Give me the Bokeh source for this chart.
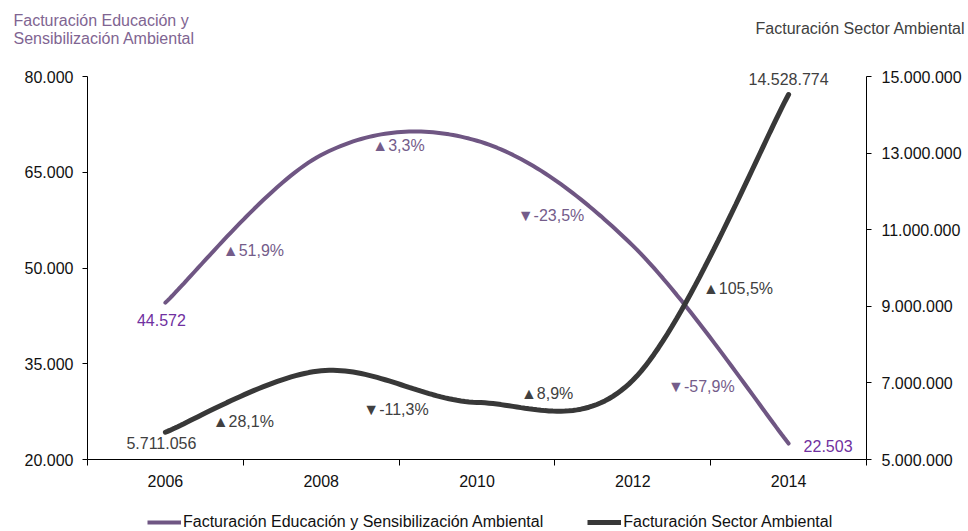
import numpy as np
from bokeh.plotting import figure
from bokeh.layouts import column
from bokeh.models import (Range1d, LinearAxis, FixedTicker, ColumnDataSource,
                          LabelSet, Label, Legend, LegendItem)
from bokeh.core.properties import value
from bokeh.embed import file_html
from bokeh.resources import INLINE

# ---------------- data ----------------
years = ["2006", "2008", "2010", "2012", "2014"]
educacion = [44572, 67700, 69935, 53500, 22503]
sector = [5711056, 7317700, 6490800, 7068500, 14528774]
edu_changes = ["▲51,9%", "▲3,3%", "▼-23,5%", "▼-57,9%"]
sector_changes = ["▲28,1%", "▼-11,3%", "▲8,9%", "▲105,5%"]
left_ticks = [20000, 35000, 50000, 65000, 80000]
left_tick_labels = ["20.000", "35.000", "50.000", "65.000", "80.000"]
right_ticks = [5000000, 7000000, 9000000, 11000000, 13000000, 15000000]
right_tick_labels = ["5.000.000", "7.000.000", "9.000.000", "11.000.000",
                     "13.000.000", "15.000.000"]
edu_title = ["Facturación Educación y", "Sensibilización Ambiental"]
edu_name = "Facturación Educación y Sensibilización Ambiental"
sector_name = "Facturación Sector Ambiental"

# ---------------- styles / geometry ----------------
FONT = "Liberation Sans"
PURPLE_LINE = "#6F5683"
PURPLE_VAL = "#7030A0"
PURPLE_PCT = "#745C8A"
PURPLE_TITLE = "#7F6592"
DARK_LINE = "#383838"
DARK_TXT = "#404040"
W = 968
MAIN_H = 492
FOOT_H = 531 - MAIN_H
EDU_W = 4
SEC_W = 5


def dots(v):
    return f"{int(round(v)):,}".replace(",", ".")


def smooth(xs, ys, n=40):
    """Excel-like smoothed line (Catmull-Rom -> cubic Bezier)."""
    P = np.column_stack([np.asarray(xs, float), np.asarray(ys, float)])
    m = len(P)
    out = [P[0]]
    t = np.linspace(0, 1, n)[1:, None]
    for i in range(m - 1):
        p0 = P[max(i - 1, 0)]
        p1 = P[i]
        p2 = P[i + 1]
        p3 = P[min(i + 2, m - 1)]
        c1 = p1 + (p2 - p0) / 6.0
        c2 = p2 - (p3 - p1) / 6.0
        seg = ((1 - t) ** 3) * p1 + 3 * ((1 - t) ** 2) * t * c1 + 3 * (1 - t) * t ** 2 * c2 + t ** 3 * p2
        out.extend(seg)
    out = np.array(out)
    return out[:, 0], out[:, 1]


xs = list(range(len(years)))
ex, ey = smooth(xs, educacion)
sx_, sy_ = smooth(xs, sector)

p = figure(width=W, height=MAIN_H, output_backend="svg", toolbar_location=None,
           x_range=Range1d(-0.5, len(years) - 0.5),
           y_range=Range1d(left_ticks[0], left_ticks[-1]))
p.min_border_left = 87
p.min_border_right = 102
p.min_border_top = 76
p.min_border_bottom = 33
p.outline_line_color = None
p.background_fill_color = "white"
p.border_fill_color = "white"
p.xgrid.visible = False
p.ygrid.visible = False

p.extra_y_ranges = {"right": Range1d(right_ticks[0], right_ticks[-1])}

# x axis
xa = p.xaxis[0]
xa.ticker = FixedTicker(ticks=xs, minor_ticks=[x - 0.5 for x in xs] + [xs[-1] + 0.5])
xa.major_label_overrides = {x: y for x, y in zip(xs, years)}
xa.major_tick_out = 0
xa.major_tick_in = 0
xa.minor_tick_out = 6
xa.minor_tick_in = 0
xa.minor_tick_line_color = "black"
xa.axis_line_color = "black"
xa.major_label_standoff = 9

# left axis
ya = p.yaxis[0]
ya.ticker = FixedTicker(ticks=left_ticks, minor_ticks=[])
ya.major_label_overrides = {t: s for t, s in zip(left_ticks, left_tick_labels)}
ya.major_label_standoff = 9

# right axis
ra = LinearAxis(y_range_name="right")
ra.ticker = FixedTicker(ticks=right_ticks, minor_ticks=[])
ra.major_label_overrides = {t: s for t, s in zip(right_ticks, right_tick_labels)}
ra.major_label_standoff = 10
p.add_layout(ra, "right")

for ax in (ya, ra):
    ax.major_tick_out = 5
    ax.major_tick_in = 0
    ax.minor_tick_out = 0
    ax.minor_tick_in = 0
    ax.axis_line_color = "black"
    ax.major_tick_line_color = "black"

for ax in (xa, ya, ra):
    ax.major_label_text_font = FONT
    ax.major_label_text_font_size = "16px"
    ax.major_label_text_color = "#111111"
    ax.axis_line_width = 1

# lines
p.line(ex, ey, line_color=PURPLE_LINE, line_width=EDU_W, line_cap="round")
p.line(sx_, sy_, line_color=DARK_LINE, line_width=SEC_W, line_cap="round",
       y_range_name="right")


def lbl(x, y, txt, color, align, xo=0, yo=0, rng="default"):
    return Label(x=x, y=y, text=txt, text_color=color, text_font=FONT,
                 text_font_size="16px", text_align=align,
                 text_baseline="middle", x_offset=xo, y_offset=yo,
                 y_range_name=rng)


# value labels at the ends
p.add_layout(lbl(xs[0], educacion[0], dots(educacion[0]), PURPLE_VAL, "center", -4, -17))
p.add_layout(lbl(xs[-1], educacion[-1], dots(educacion[-1]), PURPLE_VAL, "left", 15, -2))
p.add_layout(lbl(xs[0], sector[0], dots(sector[0]), DARK_TXT, "center", -4, -11, "right"))
# labels reaching above the frame go to a side panel (not clipped there)
p.add_layout(lbl(xs[-1], sector[-1], dots(sector[-1]), DARK_TXT, "center", 0, 16, "right"), "above")

# change annotations (anchors between categories)
edu_src = ColumnDataSource(dict(x=[0.565, 1.496, 2.475, 3.44],
                                y=[52742, 69191, 58225, 31436],
                                t=edu_changes))
sec_src = ColumnDataSource(dict(x=[0.5, 1.48, 2.45, 3.675],
                                y=[5992000, 6306000, 6723000, 9465000],
                                t=sector_changes))
p.add_layout(LabelSet(x="x", y="y", text="t", source=edu_src,
                      text_color=PURPLE_PCT, text_font=value(FONT), text_font_size="16px",
                      text_align="center", text_baseline="middle"))
p.add_layout(LabelSet(x="x", y="y", text="t", source=sec_src, y_range_name="right",
                      text_color=DARK_TXT, text_font=value(FONT), text_font_size="16px",
                      text_align="center", text_baseline="middle"))

# axis titles at the top
p.add_layout(lbl(-0.975, 88773, edu_title[0], PURPLE_TITLE, "left"), "above")
p.add_layout(lbl(-0.975, 85953, edu_title[1], PURPLE_TITLE, "left"), "above")
p.add_layout(lbl(5.135, 87520, sector_name, DARK_TXT, "right"), "above")

# ---------------- footer strip holding the legend ----------------
# the same series are attached here (outside this strip's view) so the legend
# can draw their line samples
foot = figure(width=W, height=FOOT_H, output_backend="svg", toolbar_location=None,
              x_range=Range1d(0, 1), y_range=Range1d(0, 1),
              x_axis_location=None, y_axis_location=None,
              min_border_left=87, min_border_right=102,
              min_border_top=0, min_border_bottom=0,
              outline_line_color=None)
foot.grid.visible = False
k_edu = foot.line(ex, ey, line_color=PURPLE_LINE, line_width=EDU_W)
k_sec = foot.line(sx_, sy_, line_color=DARK_LINE, line_width=SEC_W)
legend = Legend(items=[LegendItem(label=edu_name, renderers=[k_edu]),
                       LegendItem(label=sector_name, renderers=[k_sec])],
                orientation="horizontal", location=(60, 0),
                glyph_width=34, glyph_height=18, label_height=18,
                label_standoff=2, spacing=44, padding=0, margin=0,
                border_line_color=None, background_fill_alpha=0,
                label_text_font=FONT, label_text_font_size="16px",
                label_text_color="#111111")
foot.add_layout(legend, "center")

layout = column(p, foot, spacing=0)
open("out.html", "w").write(file_html(layout, INLINE))
